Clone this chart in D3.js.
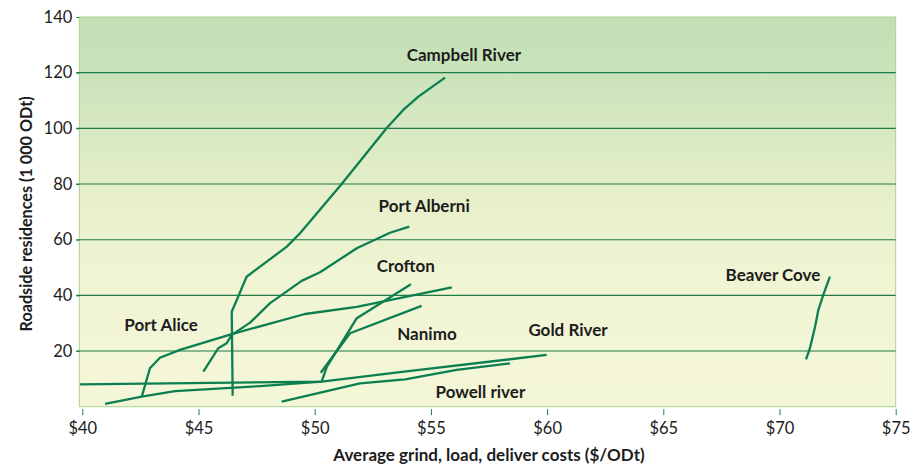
<!DOCTYPE html>
<html>
<head>
<meta charset="utf-8">
<script src="https://cdn.jsdelivr.net/npm/d3@7/dist/d3.min.js"></script>
<style>
  html, body { margin: 0; padding: 0; background: #fff; }
  svg { display: block; }
  text { font-family: Lato, "Open Sans", sans-serif; fill: #1c1c1c; }
</style>
</head>
<body>
<svg id="chart" width="920" height="468"></svg>
<script>
// Supply curves: [average grind/load/deliver cost ($/ODt), roadside residues (1 000 ODt)]
const campbellRiver = [[46.47, 3.9], [46.43, 34.1], [47.07, 46.7], [48.80, 57.5], [49.37, 62.3],
  [51.16, 80.0], [53.10, 100.1], [53.81, 106.6], [54.46, 111.4], [55.61, 118.2]];
const portAlberni = [[45.21, 12.6], [45.85, 21.0], [46.21, 22.8], [46.43, 25.8], [47.22, 30.2],
  [48.08, 37.2], [49.44, 45.2], [50.23, 48.3], [51.81, 56.9], [53.24, 62.5], [54.07, 64.7]];
const portAlice = [[42.56, 3.6], [42.91, 13.8], [43.34, 17.6], [44.20, 20.4], [46.43, 26.1],
  [49.58, 33.3], [51.81, 35.9], [55.90, 42.9]];
const crofton = [[39.90, 8.0], [50.30, 9.0], [50.52, 14.3], [51.81, 31.8], [54.14, 44.0]];
const nanimo = [[50.26, 12.2], [51.52, 26.4], [54.60, 36.2]];
const goldRiver = [[40.98, 1.0], [42.56, 3.6], [43.99, 5.6], [47.65, 7.4], [50.30, 9.0],
  [53.67, 12.4], [59.98, 18.6]];
const powellRiver = [[48.58, 1.8], [51.95, 8.4], [53.89, 9.8], [56.11, 13.2], [58.40, 15.6]];
const beaverCove = [[71.14, 17.0], [71.31, 21.0], [71.53, 28.7], [71.67, 34.7], [71.88, 40.1], [72.17, 46.7]];

const seriesCurves = [campbellRiver, portAlberni, portAlice, crofton, nanimo, goldRiver, powellRiver, beaverCove];

// Region names and the [cost, residues] point each name is centred on
const regionNames = ["Campbell River", "Port Alberni", "Crofton", "Port Alice", "Nanimo",
  "Gold River", "Powell river", "Beaver Cove"];
const regionLabelAt = [[56.42, 124.2], [54.71, 69.8], [53.92, 48.4], [43.39, 27.2], [54.83, 24.0],
  [60.90, 25.4], [57.13, 3.1], [69.72, 45.2]];

const xTicks = [40, 45, 50, 55, 60, 65, 70, 75];
const yTicks = [20, 40, 60, 80, 100, 120, 140];
const gridValues = [20, 40, 60, 80, 100, 120];

const xTitle = "Average grind, load, deliver costs ($/ODt)";
const yTitle = "Roadside residences (1 000 ODt)";

const svg = d3.select("#chart");

const x = d3.scaleLinear().domain([40, 75]).range([82.3, 895.7]);
const y = d3.scaleLinear().domain([0, 140]).range([406.7, 17]);

// Plot background: green at the top fading to pale yellow
const defs = svg.append("defs");
const grad = defs.append("linearGradient")
  .attr("id", "bg").attr("x1", 0).attr("y1", 0).attr("x2", 0).attr("y2", 1);
[[0, "#c3deb5"], [0.12, "#c8e2b9"], [0.45, "#e6efca"], [0.7, "#f1f5d4"], [1, "#f4f6d8"]]
  .forEach(([o, c]) => grad.append("stop").attr("offset", o).attr("stop-color", c));

const plotLeft = x(40) - 3;
svg.append("rect")
  .attr("x", plotLeft).attr("y", y(140))
  .attr("width", x(75) - plotLeft).attr("height", y(0) - y(140))
  .attr("fill", "url(#bg)")
  .attr("stroke", "#a9d18f").attr("stroke-width", 1);

// Horizontal gridlines
svg.append("g").selectAll("line")
  .data(gridValues).join("line")
  .attr("x1", plotLeft - 3).attr("x2", x(75))
  .attr("y1", d => y(d)).attr("y2", d => y(d))
  .attr("stroke", "#1f7a47").attr("stroke-width", 1.1);

// Y axis
const yAxis = svg.append("g")
  .attr("transform", `translate(${plotLeft},0)`)
  .call(d3.axisLeft(y).tickValues(yTicks).tickSize(3).tickPadding(4));
yAxis.select(".domain").remove();
yAxis.selectAll(".tick line").attr("stroke", "#1f7a47");
yAxis.selectAll(".tick text")
  .style("font-family", "Lato, sans-serif").style("font-size", "16.5px").attr("fill", "#1c1c1c");

// X axis
const xAxis = svg.append("g")
  .attr("transform", `translate(0,${y(0) + 2.5})`)
  .call(d3.axisBottom(x).tickValues(xTicks).tickSize(6).tickPadding(7).tickFormat(d => "$" + d));
xAxis.select(".domain").remove();
xAxis.selectAll(".tick line").attr("stroke", "#1f7a47");
xAxis.selectAll(".tick text")
  .style("font-family", "Lato, sans-serif").style("font-size", "16.5px").attr("fill", "#1c1c1c");

// Supply curves
const line = d3.line().x(d => x(d[0])).y(d => y(d[1]));
svg.append("g").selectAll("path")
  .data(seriesCurves).join("path")
  .attr("d", line)
  .attr("fill", "none")
  .attr("stroke", "#0c7f51")
  .attr("stroke-width", 2.3)
  .attr("stroke-linejoin", "round");

// Region names
svg.append("g").selectAll("text")
  .data(regionNames).join("text")
  .attr("x", (d, i) => x(regionLabelAt[i][0]))
  .attr("y", (d, i) => y(regionLabelAt[i][1]))
  .attr("text-anchor", "middle")
  .style("font-size", "17px").style("font-weight", 700)
  .text(d => d);

// Axis titles
svg.append("text")
  .attr("x", (x(40) + x(75)) / 2).attr("y", 461)
  .attr("text-anchor", "middle")
  .style("font-size", "17px").style("font-weight", 700)
  .text(xTitle);

svg.append("text")
  .attr("transform", `translate(32,${(y(0) + y(140)) / 2 + 2}) rotate(-90)`)
  .attr("text-anchor", "middle")
  .style("font-size", "16.2px").style("font-weight", 700)
  .text(yTitle);
</script>
</body>
</html>
